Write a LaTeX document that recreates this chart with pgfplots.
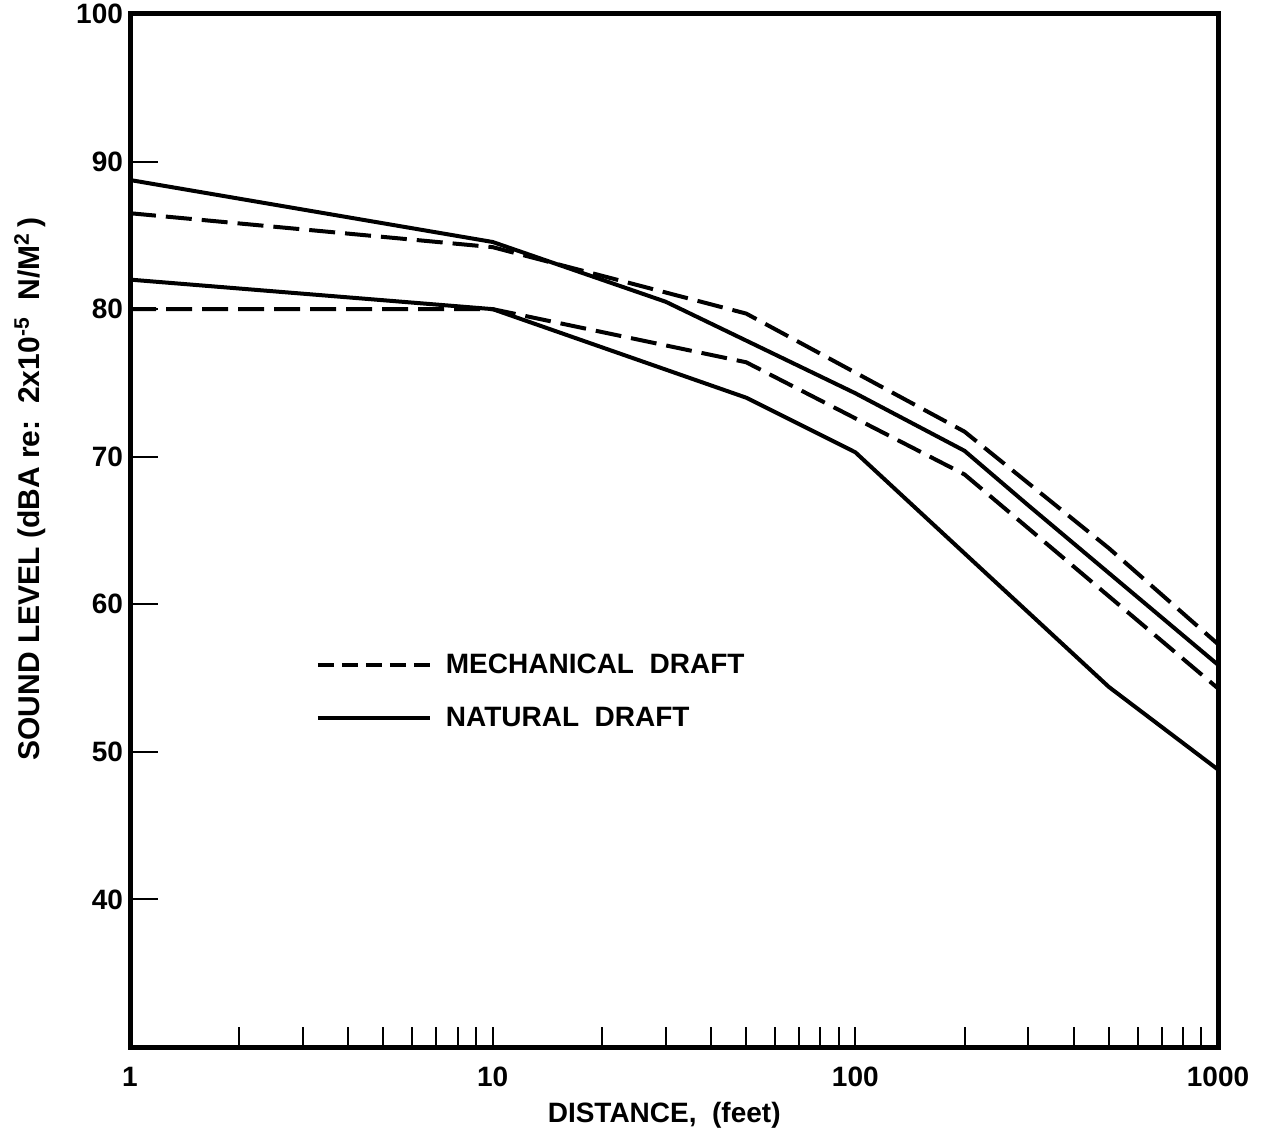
\documentclass[border=0pt]{standalone}
\usepackage{pgfplots}
\pgfplotsset{compat=1.18}
\usepackage{fontspec}
\setmainfont{Liberation Sans}

\begin{document}
\begin{tikzpicture}
\begin{axis}[
  name=ax,
  xmode=log,
  scale only axis,
  width=544pt, height=516.5pt,
  xmin=1, xmax=1000, ymin=30, ymax=100,
  xtick={1,10,100,1000},
  xticklabels={1,10,100,1000},
  minor xtick={2,3,4,5,6,7,8,9,10,20,30,40,50,60,70,80,90,100,200,300,400,500,600,700,800,900},
  ytick={40,50,...,100},
  tick align=inside,
  xtick pos=bottom, ytick pos=left,
  major tick length=14pt, minor tick length=10pt,
  tick style={line width=1pt, black},
  major x tick style={draw=none},
  axis line style={line width=2.5pt},
  ticklabel style={font=\fontsize{14}{16}\selectfont\bfseries},
  xticklabel style={yshift=-6.5pt},
  /pgf/number format/assume math mode=true,
  xlabel={DISTANCE,\ \ (feet)},
  ylabel={SOUND LEVEL (dBA\ re:\ \ 2x10\textsuperscript{-5}\ \ N/M\textsuperscript{2}\,)},
  xlabel style={font=\fontsize{14}{16}\selectfont\bfseries,
    at={(axis description cs:0.491,-0.066)}, anchor=center},
  ylabel style={font=\fontsize{15}{17}\selectfont\bfseries,
    at={(axis description cs:-0.092,0.54)}, anchor=center, rotate=0},
  legend style={draw=none, fill=none, at={(axis description cs:0.165,0.389)},
    anchor=north west, font=\fontsize{14}{16}\selectfont\bfseries, row sep=11.5pt},
  legend cell align=left,
  legend image code/.code={\draw[#1] (0pt,0pt) -- (56pt,0pt);},
]
% legend samples
\addlegendimage{black, line width=2pt, dash pattern=on 8pt off 4pt}
\addlegendentry{\hspace{5pt}MECHANICAL\ \ DRAFT}
\addlegendimage{black, line width=2pt}
\addlegendentry{\hspace{5pt}NATURAL\ \ DRAFT}
% mechanical draft (dashed)
\addplot[black, line width=2pt, dash pattern=on 13pt off 5pt, forget plot]
  coordinates {(1,86.5) (10,84.2) (50,79.7) (200,71.7) (500,63.8) (1000,57.3)};
\addplot[black, line width=2pt, dash pattern=on 13pt off 5pt, forget plot]
  coordinates {(1,80) (10,80) (50,76.4) (200,68.8) (1000,54.3)};
% natural draft (solid)
\addplot[black, line width=2pt, forget plot]
  coordinates {(1,88.75) (10,84.55) (30,80.5) (100,74.3) (200,70.4) (300,66.7) (1000,55.9)};
\addplot[black, line width=2pt, forget plot]
  coordinates {(1,82) (10,80) (50,74) (100,70.3) (500,54.4) (1000,48.8)};
\end{axis}
\pgfresetboundingbox
\path ([shift={(-65pt,-44pt)}]ax.south west) rectangle ([shift={(21.5pt,7pt)}]ax.north east);
\end{tikzpicture}
\end{document}
